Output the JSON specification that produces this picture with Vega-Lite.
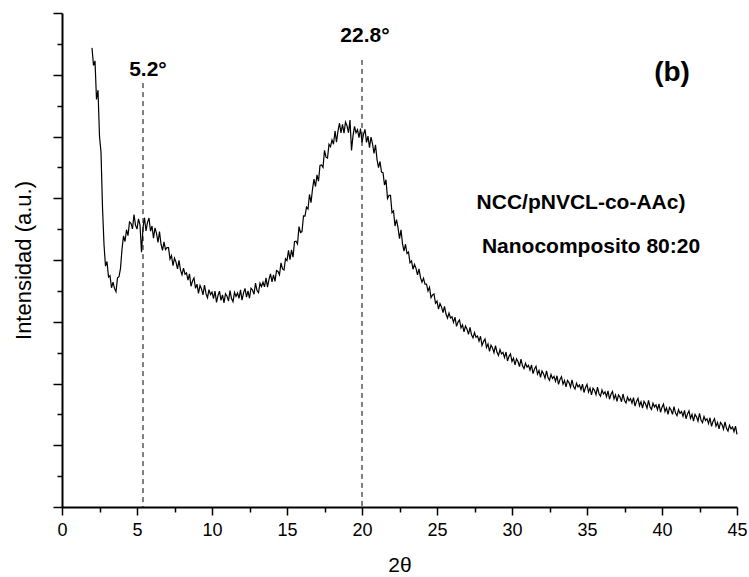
{
  "$schema": "https://vega.github.io/schema/vega-lite/v6.json",
  "width": 675,
  "height": 494,
  "autosize": {"type": "none"},
  "padding": {"left": 62, "top": 13, "right": 12, "bottom": 70},
  "background": "white",
  "config": {"view": {"stroke": null}, "font": "Liberation Sans"},
  "resolve": {"axis": {"x": "independent", "y": "independent"}},
  "layer": [
    {
      "data": {"values": [
        {"t":2.0,"i":14.87},{"t":2.1,"i":14.3},{"t":2.2,"i":14.45},{"t":2.3,"i":13.2},{"t":2.4,"i":13.5},{"t":2.5,"i":12.0},{"t":2.6,"i":11.5},{"t":2.7,"i":9.7},{"t":2.8,"i":8.5},{"t":2.9,"i":7.8},
        {"t":3.0,"i":7.95},{"t":3.1,"i":7.45},{"t":3.2,"i":7.49},{"t":3.3,"i":7.1},{"t":3.4,"i":7.28},{"t":3.5,"i":7.08},{"t":3.6,"i":6.97},{"t":3.7,"i":7.42},{"t":3.8,"i":7.46},{"t":3.9,"i":7.73},
        {"t":4.0,"i":8.35},{"t":4.1,"i":8.78},{"t":4.2,"i":8.6},{"t":4.3,"i":8.98},{"t":4.4,"i":8.79},{"t":4.5,"i":9.23},{"t":4.6,"i":9.19},{"t":4.7,"i":9.01},{"t":4.8,"i":9.47},{"t":4.9,"i":9.13},
        {"t":5.0,"i":9.0},{"t":5.1,"i":9.33},{"t":5.2,"i":9.14},{"t":5.3,"i":8.25},{"t":5.4,"i":9.04},{"t":5.5,"i":9.37},{"t":5.6,"i":8.94},{"t":5.7,"i":9.22},{"t":5.8,"i":9.36},{"t":5.9,"i":8.93},
        {"t":6.0,"i":9.1},{"t":6.1,"i":8.71},{"t":6.2,"i":9.04},{"t":6.3,"i":8.86},{"t":6.4,"i":8.57},{"t":6.5,"i":8.92},{"t":6.6,"i":8.51},{"t":6.7,"i":8.31},{"t":6.8,"i":8.59},{"t":6.9,"i":8.34},
        {"t":7.0,"i":8.4},{"t":7.1,"i":8.4},{"t":7.2,"i":8.03},{"t":7.3,"i":8.14},{"t":7.4,"i":7.82},{"t":7.5,"i":8.06},{"t":7.6,"i":7.93},{"t":7.7,"i":7.71},{"t":7.8,"i":7.99},{"t":7.9,"i":7.67},
        {"t":8.0,"i":7.52},{"t":8.1,"i":7.74},{"t":8.2,"i":7.54},{"t":8.3,"i":7.58},{"t":8.4,"i":7.35},{"t":8.5,"i":7.55},{"t":8.6,"i":7.15},{"t":8.7,"i":7.32},{"t":8.8,"i":7.42},{"t":8.9,"i":7.08},
        {"t":9.0,"i":7.22},{"t":9.1,"i":6.92},{"t":9.2,"i":7.18},{"t":9.3,"i":7.06},{"t":9.4,"i":6.87},{"t":9.5,"i":7.19},{"t":9.6,"i":6.91},{"t":9.7,"i":6.78},{"t":9.8,"i":7.04},{"t":9.9,"i":6.88},
        {"t":10.0,"i":6.96},{"t":10.1,"i":6.75},{"t":10.2,"i":6.99},{"t":10.3,"i":6.63},{"t":10.4,"i":6.85},{"t":10.5,"i":6.99},{"t":10.6,"i":6.69},{"t":10.7,"i":6.87},{"t":10.8,"i":6.61},{"t":10.9,"i":6.91},
        {"t":11.0,"i":6.83},{"t":11.1,"i":6.67},{"t":11.2,"i":7.01},{"t":11.3,"i":6.75},{"t":11.4,"i":6.65},{"t":11.5,"i":6.95},{"t":11.6,"i":6.82},{"t":11.7,"i":6.93},{"t":11.8,"i":6.76},{"t":11.9,"i":7.03},
        {"t":12.0,"i":6.7},{"t":12.1,"i":6.93},{"t":12.2,"i":7.08},{"t":12.3,"i":6.8},{"t":12.4,"i":7.0},{"t":12.5,"i":6.76},{"t":12.6,"i":7.09},{"t":12.7,"i":7.03},{"t":12.8,"i":6.89},{"t":12.9,"i":7.25},
        {"t":13.0,"i":7.01},{"t":13.1,"i":6.94},{"t":13.2,"i":7.25},{"t":13.3,"i":7.14},{"t":13.4,"i":7.28},{"t":13.5,"i":7.13},{"t":13.6,"i":7.42},{"t":13.7,"i":7.12},{"t":13.8,"i":7.37},{"t":13.9,"i":7.55},
        {"t":14.0,"i":7.29},{"t":14.1,"i":7.52},{"t":14.2,"i":7.31},{"t":14.3,"i":7.66},{"t":14.4,"i":7.63},{"t":14.5,"i":7.52},{"t":14.6,"i":7.91},{"t":14.7,"i":7.71},{"t":14.8,"i":7.68},{"t":14.9,"i":8.04},
        {"t":15.0,"i":7.98},{"t":15.1,"i":8.31},{"t":15.2,"i":8.01},{"t":15.3,"i":8.33},{"t":15.4,"i":8.09},{"t":15.5,"i":8.59},{"t":15.6,"i":8.61},{"t":15.7,"i":8.52},{"t":15.8,"i":9.08},{"t":15.9,"i":8.89},
        {"t":16.0,"i":8.92},{"t":16.1,"i":9.43},{"t":16.2,"i":9.42},{"t":16.3,"i":9.71},{"t":16.4,"i":9.65},{"t":16.5,"i":10.13},{"t":16.6,"i":9.86},{"t":16.7,"i":10.29},{"t":16.8,"i":10.62},{"t":16.9,"i":10.38},
        {"t":17.0,"i":10.76},{"t":17.1,"i":10.55},{"t":17.2,"i":11.06},{"t":17.3,"i":11.08},{"t":17.4,"i":11.0},{"t":17.5,"i":11.55},{"t":17.6,"i":11.33},{"t":17.7,"i":11.3},{"t":17.8,"i":11.75},{"t":17.9,"i":11.67},
        {"t":18.0,"i":11.89},{"t":18.1,"i":11.75},{"t":18.2,"i":12.18},{"t":18.3,"i":11.82},{"t":18.4,"i":12.18},{"t":18.5,"i":12.43},{"t":18.6,"i":12.12},{"t":18.7,"i":12.39},{"t":18.8,"i":12.11},{"t":18.9,"i":12.47},
        {"t":19.0,"i":12.35},{"t":19.1,"i":12.12},{"t":19.2,"i":12.53},{"t":19.3,"i":11.55},{"t":19.4,"i":12.02},{"t":19.5,"i":12.33},{"t":19.6,"i":12.12},{"t":19.7,"i":12.22},{"t":19.8,"i":11.96},{"t":19.9,"i":12.26},
        {"t":20.0,"i":11.81},{"t":20.1,"i":12.07},{"t":20.2,"i":12.23},{"t":20.3,"i":11.81},{"t":20.4,"i":12.01},{"t":20.5,"i":11.64},{"t":20.6,"i":11.98},{"t":20.7,"i":11.77},{"t":20.8,"i":11.45},{"t":20.9,"i":11.73},
        {"t":21.0,"i":11.26},{"t":21.1,"i":10.99},{"t":21.2,"i":11.19},{"t":21.3,"i":10.85},{"t":21.4,"i":10.83},{"t":21.5,"i":10.43},{"t":21.6,"i":10.6},{"t":21.7,"i":9.99},{"t":21.8,"i":10.09},{"t":21.9,"i":10.09},
        {"t":22.0,"i":9.53},{"t":22.1,"i":9.59},{"t":22.2,"i":9.1},{"t":22.3,"i":9.31},{"t":22.4,"i":9.05},{"t":22.5,"i":8.69},{"t":22.6,"i":8.98},{"t":22.7,"i":8.53},{"t":22.8,"i":8.29},{"t":22.9,"i":8.51},
        {"t":23.0,"i":8.21},{"t":23.1,"i":8.26},{"t":23.2,"i":7.91},{"t":23.3,"i":7.97},{"t":23.4,"i":7.7},{"t":23.5,"i":7.86},{"t":23.6,"i":7.73},{"t":23.7,"i":7.52},{"t":23.8,"i":7.71},{"t":23.9,"i":7.43},
        {"t":24.0,"i":7.28},{"t":24.1,"i":7.41},{"t":24.2,"i":7.22},{"t":24.3,"i":7.22},{"t":24.4,"i":7.0},{"t":24.5,"i":7.12},{"t":24.6,"i":6.78},{"t":24.7,"i":6.87},{"t":24.8,"i":6.9},{"t":24.9,"i":6.6},
        {"t":25.0,"i":6.67},{"t":25.1,"i":6.41},{"t":25.2,"i":6.59},{"t":25.3,"i":6.48},{"t":25.4,"i":6.3},{"t":25.5,"i":6.5},{"t":25.6,"i":6.25},{"t":25.7,"i":6.12},{"t":25.8,"i":6.28},{"t":25.9,"i":6.12},
        {"t":26.0,"i":6.16},{"t":26.1,"i":5.98},{"t":26.2,"i":6.15},{"t":26.3,"i":5.85},{"t":26.4,"i":5.99},{"t":26.5,"i":6.06},{"t":26.6,"i":5.8},{"t":26.7,"i":5.9},{"t":26.8,"i":5.67},{"t":26.9,"i":5.86},
        {"t":27.0,"i":5.76},{"t":27.1,"i":5.59},{"t":27.2,"i":5.82},{"t":27.3,"i":5.58},{"t":27.4,"i":5.48},{"t":27.5,"i":5.65},{"t":27.6,"i":5.5},{"t":27.7,"i":5.54},{"t":27.8,"i":5.37},{"t":27.9,"i":5.53},
        {"t":28.0,"i":5.23},{"t":28.1,"i":5.36},{"t":28.2,"i":5.44},{"t":28.3,"i":5.17},{"t":28.4,"i":5.28},{"t":28.5,"i":5.04},{"t":28.6,"i":5.24},{"t":28.7,"i":5.15},{"t":28.8,"i":5.0},{"t":28.9,"i":5.23},
        {"t":29.0,"i":5.01},{"t":29.1,"i":4.91},{"t":29.2,"i":5.1},{"t":29.3,"i":4.96},{"t":29.4,"i":5.01},{"t":29.5,"i":4.84},{"t":29.6,"i":5.02},{"t":29.7,"i":4.73},{"t":29.8,"i":4.88},{"t":29.9,"i":4.96},
        {"t":30.0,"i":4.71},{"t":30.1,"i":4.82},{"t":30.2,"i":4.6},{"t":30.3,"i":4.8},{"t":30.4,"i":4.71},{"t":30.5,"i":4.55},{"t":30.6,"i":4.79},{"t":30.7,"i":4.57},{"t":30.8,"i":4.48},{"t":30.9,"i":4.66},
        {"t":31.0,"i":4.53},{"t":31.1,"i":4.59},{"t":31.2,"i":4.43},{"t":31.3,"i":4.6},{"t":31.4,"i":4.32},{"t":31.5,"i":4.47},{"t":31.6,"i":4.56},{"t":31.7,"i":4.3},{"t":31.8,"i":4.42},{"t":31.9,"i":4.2},
        {"t":32.0,"i":4.41},{"t":32.1,"i":4.32},{"t":32.2,"i":4.17},{"t":32.3,"i":4.41},{"t":32.4,"i":4.19},{"t":32.5,"i":4.1},{"t":32.6,"i":4.29},{"t":32.7,"i":4.16},{"t":32.8,"i":4.23},{"t":32.9,"i":4.07},
        {"t":33.0,"i":4.25},{"t":33.1,"i":3.97},{"t":33.2,"i":4.13},{"t":33.3,"i":4.22},{"t":33.4,"i":3.98},{"t":33.5,"i":4.1},{"t":33.6,"i":3.89},{"t":33.7,"i":4.1},{"t":33.8,"i":4.03},{"t":33.9,"i":3.88},
        {"t":34.0,"i":4.12},{"t":34.1,"i":3.9},{"t":34.2,"i":3.82},{"t":34.3,"i":4.01},{"t":34.4,"i":3.89},{"t":34.5,"i":3.95},{"t":34.6,"i":3.8},{"t":34.7,"i":3.98},{"t":34.8,"i":3.71},{"t":34.9,"i":3.87},
        {"t":35.0,"i":3.97},{"t":35.1,"i":3.72},{"t":35.2,"i":3.85},{"t":35.3,"i":3.63},{"t":35.4,"i":3.85},{"t":35.5,"i":3.78},{"t":35.6,"i":3.64},{"t":35.7,"i":3.88},{"t":35.8,"i":3.67},{"t":35.9,"i":3.59},
        {"t":36.0,"i":3.79},{"t":36.1,"i":3.66},{"t":36.2,"i":3.73},{"t":36.3,"i":3.57},{"t":36.4,"i":3.76},{"t":36.5,"i":3.49},{"t":36.6,"i":3.65},{"t":36.7,"i":3.74},{"t":36.8,"i":3.5},{"t":36.9,"i":3.63},
        {"t":37.0,"i":3.42},{"t":37.1,"i":3.63},{"t":37.2,"i":3.56},{"t":37.3,"i":3.41},{"t":37.4,"i":3.66},{"t":37.5,"i":3.45},{"t":37.6,"i":3.37},{"t":37.7,"i":3.56},{"t":37.8,"i":3.44},{"t":37.9,"i":3.51},
        {"t":38.0,"i":3.36},{"t":38.1,"i":3.54},{"t":38.2,"i":3.27},{"t":38.3,"i":3.42},{"t":38.4,"i":3.52},{"t":38.5,"i":3.28},{"t":38.6,"i":3.41},{"t":38.7,"i":3.2},{"t":38.8,"i":3.42},{"t":38.9,"i":3.34},
        {"t":39.0,"i":3.2},{"t":39.1,"i":3.45},{"t":39.2,"i":3.24},{"t":39.3,"i":3.16},{"t":39.4,"i":3.36},{"t":39.5,"i":3.24},{"t":39.6,"i":3.31},{"t":39.7,"i":3.15},{"t":39.8,"i":3.34},{"t":39.9,"i":3.07},
        {"t":40.0,"i":3.23},{"t":40.1,"i":3.33},{"t":40.2,"i":3.09},{"t":40.3,"i":3.21},{"t":40.4,"i":3.0},{"t":40.5,"i":3.22},{"t":40.6,"i":3.15},{"t":40.7,"i":3.0},{"t":40.8,"i":3.25},{"t":40.9,"i":3.04},
        {"t":41.0,"i":2.96},{"t":41.1,"i":3.15},{"t":41.2,"i":3.03},{"t":41.3,"i":3.09},{"t":41.4,"i":2.94},{"t":41.5,"i":3.13},{"t":41.6,"i":2.86},{"t":41.7,"i":3.01},{"t":41.8,"i":3.11},{"t":41.9,"i":2.87},
        {"t":42.0,"i":3.0},{"t":42.1,"i":2.78},{"t":42.2,"i":3.0},{"t":42.3,"i":2.92},{"t":42.4,"i":2.78},{"t":42.5,"i":3.03},{"t":42.6,"i":2.82},{"t":42.7,"i":2.73},{"t":42.8,"i":2.93},{"t":42.9,"i":2.8},
        {"t":43.0,"i":2.86},{"t":43.1,"i":2.7},{"t":43.2,"i":2.89},{"t":43.3,"i":2.61},{"t":43.4,"i":2.77},{"t":43.5,"i":2.86},{"t":43.6,"i":2.62},{"t":43.7,"i":2.74},{"t":43.8,"i":2.53},{"t":43.9,"i":2.74},
        {"t":44.0,"i":2.67},{"t":44.1,"i":2.52},{"t":44.2,"i":2.76},{"t":44.3,"i":2.55},{"t":44.4,"i":2.46},{"t":44.5,"i":2.65},{"t":44.6,"i":2.53},{"t":44.7,"i":2.59},{"t":44.8,"i":2.44},{"t":44.9,"i":2.62},
        {"t":45.0,"i":2.35}
      ]},
      "mark": {"type": "line", "color": "black", "strokeWidth": 1.2, "interpolate": "linear"},
      "encoding": {
        "x": {
          "field": "t", "type": "quantitative",
          "scale": {"domain": [0, 45], "nice": false, "zero": false},
          "axis": {
            "title": "2θ", "orient": "bottom",
            "values": [0,5,10,15,20,25,30,35,40,45],
            "tickSize": 8,
            "tickWidth": 1.5, "tickColor": "black",
            "domainWidth": 2, "domainColor": "black",
            "labelFontSize": 18, "labelColor": "black", "labelPadding": 6,
            "labelFlush": false, "labelOverlap": false,
            "titleFontSize": 21, "titleFontWeight": "normal", "titleColor": "black", "titlePadding": 15,
            "grid": false
          }
        },
        "y": {
          "field": "i", "type": "quantitative",
          "scale": {"domain": [0, 16], "nice": false, "zero": false},
          "axis": {
            "title": "Intensidad (a.u.)", "orient": "left",
            "values": [0,2,4,6,8,10,12,14,16],
            "labels": false,
            "tickSize": 9,
            "tickWidth": 1.5, "tickColor": "black",
            "domainWidth": 2, "domainColor": "black",
            "titleFontSize": 22, "titleFontWeight": "normal", "titleColor": "black", "titlePadding": 17,
            "grid": false
          }
        }
      }
    },
    {
      "data": {"values": [{"t": 5.4, "i": 13.73}, {"t": 20.0, "i": 14.48}]},
      "mark": {"type": "rule", "color": "black", "strokeWidth": 1, "strokeDash": [5, 4]},
      "encoding": {
        "x": {
          "field": "t", "type": "quantitative",
          "axis": {
            "orient": "bottom", "title": null, "labels": false, "domain": false, "grid": false,
            "values": [2.5,7.5,12.5,17.5,22.5,27.5,32.5,37.5,42.5],
            "tickSize": 5, "tickWidth": 1.5, "tickColor": "black"
          }
        },
        "y": {
          "field": "i", "type": "quantitative",
          "axis": {
            "orient": "left", "title": null, "labels": false, "domain": false, "grid": false,
            "values": [1,3,5,7,9,11,13,15],
            "tickSize": 5, "tickWidth": 1.5, "tickColor": "black"
          }
        },
        "y2": {"datum": 0}
      }
    },
    {
      "data": {"values": [
        {"t": 5.73, "i": 14.15, "label": "5.2°"},
        {"t": 20.2, "i": 15.26, "label": "22.8°"},
        {"t": 34.6, "i": 9.85, "label": "NCC/pNVCL-co-AAc)"},
        {"t": 35.27, "i": 8.42, "label": "Nanocomposito 80:20"}
      ]},
      "mark": {"type": "text", "fontSize": 21, "fontWeight": "bold", "color": "black", "align": "center", "baseline": "middle"},
      "encoding": {
        "x": {"field": "t", "type": "quantitative", "axis": null},
        "y": {"field": "i", "type": "quantitative", "axis": null},
        "text": {"field": "label"}
      }
    },
    {
      "data": {"values": [{"t": 40.67, "i": 14.06, "label": "(b)"}]},
      "mark": {"type": "text", "fontSize": 28, "fontWeight": "bold", "color": "black", "align": "center", "baseline": "middle"},
      "encoding": {
        "x": {"field": "t", "type": "quantitative", "axis": null},
        "y": {"field": "i", "type": "quantitative", "axis": null},
        "text": {"field": "label"}
      }
    }
  ]
}
